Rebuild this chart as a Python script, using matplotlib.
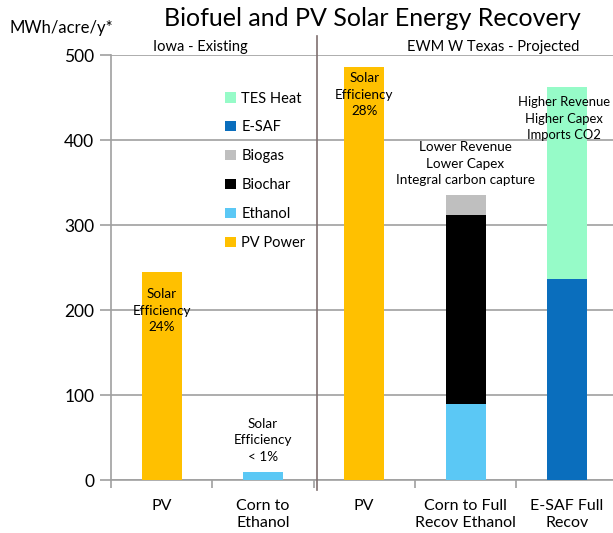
import matplotlib.pyplot as plt
import numpy as np

plt.rcParams['font.family'] = ['Lato', 'DejaVu Sans']

categories = ['PV', 'Corn to\nEthanol', 'PV', 'Corn to Full\nRecov Ethanol', 'E-SAF Full\nRecov']
pv_power = [245, 0, 486, 0, 0]
ethanol = [0, 9, 0, 90, 0]
biochar = [0, 0, 0, 222, 0]
biogas = [0, 0, 0, 23, 0]
esaf = [0, 0, 0, 0, 236]
tes_heat = [0, 0, 0, 0, 226]

series = [
    ('PV Power', pv_power, '#FFC000'),
    ('Ethanol', ethanol, '#5BC8F5'),
    ('Biochar', biochar, '#000000'),
    ('Biogas', biogas, '#BFBFBF'),
    ('E-SAF', esaf, '#0A6EBD'),
    ('TES Heat', tes_heat, '#96FBC8'),
]

fig = plt.figure(figsize=(6.13, 5.33), dpi=100)
ax = fig.add_axes([0.181, 0.0994, 0.8264, 0.7974])

x = np.arange(len(categories))
bottom = np.zeros(len(categories))
for name, vals, col in series:
    vals = np.array(vals, dtype=float)
    ax.bar(x, vals, 0.395, bottom=bottom, color=col, label=name, zorder=3)
    bottom += vals

ax.set_xlim(-0.5, 4.5)
ax.set_ylim(0, 500)
ax.set_yticks(range(0, 501, 100))
ax.yaxis.grid(True, color='#A0A0A0', linewidth=1.2, zorder=0)
ax.tick_params(axis='y', labelsize=12.5, length=8, color='#A0A0A0', width=1.2, pad=4)

# category ticks at boundaries, labels at centers
ax.set_xticks(np.arange(-0.5, 4.6, 1.0))
ax.set_xticklabels([])
ax.set_xticks(x, minor=True)
ax.set_xticklabels(categories, minor=True, fontsize=11.5)
ax.tick_params(axis='x', which='major', length=6, color='#A0A0A0', width=1.2)
ax.tick_params(axis='x', which='minor', length=0, pad=14)

for s in ['top', 'right']:
    ax.spines[s].set_visible(False)
for s in ['left', 'bottom']:
    ax.spines[s].set_color('#A0A0A0')
    ax.spines[s].set_linewidth(1.2)

# separator between regions
ax.plot([1.53, 1.53], [-12, 522], color='#7F6F6F', linewidth=1.2, clip_on=False, zorder=4)

ax.text(0.38, 501, 'Iowa - Existing', ha='center', va='bottom', fontsize=10.5)
ax.text(3.27, 501, 'EWM W Texas - Projected', ha='center', va='bottom', fontsize=10.5)

note = dict(ha='center', va='center', fontsize=9.7, linespacing=1.45, zorder=5)
ax.text(0, 199, 'Solar\nEfficiency\n24%', **note)
ax.text(1, 47, 'Solar\nEfficiency\n< 1%', **note)
ax.text(2, 453, 'Solar\nEfficiency\n28%', **note)
ax.text(3, 372, 'Lower Revenue\nLower Capex\nIntegral carbon capture', **note)
note['fontsize'] = 9.4
ax.text(3.97, 425, 'Higher Revenue\nHigher Capex\nImports CO2', **note)

handles, labels = ax.get_legend_handles_labels()
ax.legend(handles[::-1], labels[::-1], loc='upper left', bbox_to_anchor=(0.2, 0.945),
          frameon=False, fontsize=10.5, handlelength=0.7, handleheight=0.7,
          labelspacing=1.02, handletextpad=0.4)

fig.text(0.607, 0.966, 'Biofuel and PV Solar Energy Recovery', ha='center', va='center', fontsize=18)
fig.text(0.015, 0.948, 'MWh/acre/y*', ha='left', va='center', fontsize=12)

fig.savefig('out.png', dpi=100)
